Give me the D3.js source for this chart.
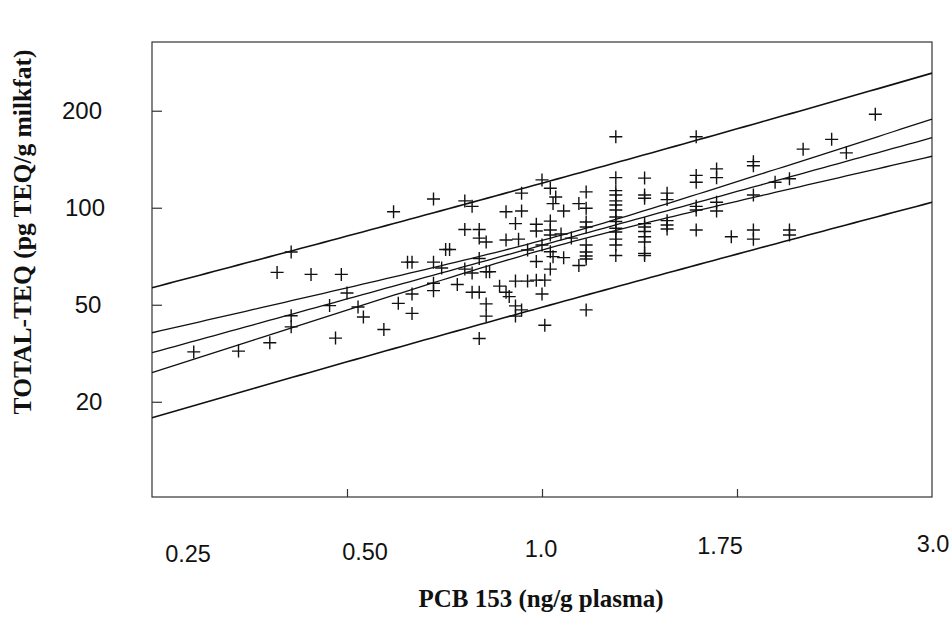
<!DOCTYPE html>
<html><head><meta charset="utf-8">
<script src="https://cdn.jsdelivr.net/npm/d3@7"></script>
<style>body{margin:0;background:#fff}</style>
</head><body><svg id="c" width="951" height="637"></svg>
<script>
// ---------------- data ----------------
const pcb = [
 0.29,0.34,0.38,0.39,0.41,0.41,0.41,0.44,0.49,0.48,0.50,0.47,0.52,0.53,0.57,0.59,0.60,0.63,0.63,0.62,
 0.63,0.68,0.68,0.68,0.68,0.70,0.71,0.72,0.74,
 0.76,0.78,0.88,0.93,0.93,0.91,0.76,0.80,0.80,0.82,0.88,0.92,0.98,0.98,1.03,1.03,1.00,1.03,1.05,1.04,
 1.08,1.14,1.17,1.17,1.17,1.17,1.17,1.17,1.17,1.17,1.14,
 1.30,1.30,1.30,1.30,1.30,1.30,1.30,1.30,1.30,1.30,1.30,1.30,1.30,1.30,
 1.08,1.04,1.03,1.03,1.00,0.98,0.95,1.03,1.07,1.11,0.80,0.76,0.78,0.78,0.80,0.82,0.83,0.86,0.88,0.89,
 0.82,0.82,0.80,0.91,0.91,0.93,0.91,0.95,0.98,1.01,1.00,1.01,1.17,
 1.44,1.44,1.44,1.44,1.44,1.44,1.44,1.44,1.44,1.44,
 1.56,1.56,1.56,1.56,1.56,
 1.73,1.73,1.73,1.73,1.73,1.73,
 1.86,1.86,1.86,1.86,1.96,
 2.12,2.12,2.12,2.12,2.12,
 2.29,2.41,2.41,2.41,2.53,2.80,2.95,3.27
];
const teq = [
 35.7,35.9,38.1,63.0,72.9,46.2,42.7,62.1,62.1,39.4,54.4,49.7,49.2,45.8,41.9,97.2,50.5,54.0,47.0,67.8,
 67.8,67.8,106.4,58.3,55.3,65.0,74.2,74.2,57.8,
 105,101,97.2,111,97.7,89.3,85.6,85.6,80.5,78.3,79.4,79.9,88.9,84.7,90.9,85.3,122,115,108,103,
 97.7,103,112,99.6,90.3,87.1,76.6,72.9,70.8,69.3,66.2,
 166,124,113,109.5,105,102,98.4,93.6,90.6,86.4,84.1,79.9,76.6,71.1,
 70.0,70.5,73.0,64.5,76.6,68.1,73.9,82.3,82.9,80.5,69.6,64.5,62.7,54.7,54.7,63.3,63.3,57.1,54.7,53.0,
 50.3,46.1,39.3,59.2,49.6,48.2,46.1,59.2,59.6,59.6,54.0,43.2,48.2,
 123.6,109.5,107,89.3,87.1,84.4,81.3,78.3,72.2,71.1,
 111,106,91.2,88.4,85.9,
 166,126,120,101,98.4,85.3,
 132,124,104,97.7,81.3,
 139,135,109.5,85.3,79.9,
 120,123,85.3,82.3,152,163,148,195
];
// regression on log10 scales
const fitCoef = [1.8837, 0.554];             // intercept, slope
const bandStats = [0.192, 170, 0.024, 3.99]; // t*s, n, mean log10(x), Sxx
const xTickValues = [0.25, 0.5, 1, 2, 4];
const xTickLabels = ["0.25", "0.50", "1.0", "1.75", "3.0"];
const yTickValues = [200, 100, 50, 25];
const yTickLabels = ["200", "100", "50", "20"];
const xTitle = "PCB 153 (ng/g plasma)";
const yTitle = "TOTAL-TEQ (pg TEQ/g milkfat)";

// ---------------- layout ----------------
const L = 152, R = 932, T = 42, B = 497;
const xLabelNudge = [36, 18, -1, -17, 1];
const xLabelBase = [562, 560, 557, 554, 552];
const yLabelX = [82, 85, 88, 89];
const svg = d3.select("#c");
const x = d3.scaleLog().domain([0.25, 4]).range([L, R]);
const y = d3.scaleLog().domain([12.66, 326.8]).range([B, T]);
const ink = "#111";

// frame
svg.append("rect").attr("x", L).attr("y", T).attr("width", R - L).attr("height", B - T)
  .attr("fill", "none").attr("stroke", "#333").attr("stroke-width", 1.2);

// y ticks (inward)
const yAxis = d3.axisRight(y).tickValues(yTickValues).tickSize(10).tickFormat("");
const gy = svg.append("g").attr("transform", `translate(${L},0)`).call(yAxis);
gy.select(".domain").remove();
gy.selectAll("line").attr("stroke", "#333").attr("stroke-width", 1.2);
svg.selectAll(".ylab").data(yTickValues).enter().append("text")
  .attr("x", (d, i) => yLabelX[i]).attr("y", d => y(d)).attr("dy", "0.36em")
  .attr("text-anchor", "middle").attr("font-family", "Liberation Sans, Arial, sans-serif")
  .attr("font-size", 24).attr("fill", ink).text((d, i) => yTickLabels[i]);

// x ticks (inward)
const xAxis = d3.axisTop(x).tickValues(xTickValues.slice(1, 4)).tickSize(8).tickFormat("");
const gx = svg.append("g").attr("transform", `translate(0,${B})`).call(xAxis);
gx.select(".domain").remove();
gx.selectAll("line").attr("stroke", "#333").attr("stroke-width", 1.2);
svg.selectAll(".xlab").data(xTickValues).enter().append("text")
  .attr("x", (d, i) => x(d) + xLabelNudge[i]).attr("y", (d, i) => xLabelBase[i])
  .attr("text-anchor", "middle").attr("font-family", "Liberation Sans, Arial, sans-serif")
  .attr("font-size", 23.5).attr("fill", ink).text((d, i) => xTickLabels[i]);

// titles
svg.append("text").attr("x", 541).attr("y", 607).attr("text-anchor", "middle")
  .attr("font-family", "Liberation Serif, Times New Roman, serif").attr("font-weight", "bold")
  .attr("font-size", 25).attr("fill", ink).text(xTitle);
svg.append("text").attr("transform", "translate(31,232) rotate(-90)").attr("text-anchor", "middle")
  .attr("font-family", "Liberation Serif, Times New Roman, serif").attr("font-weight", "bold")
  .attr("font-size", 25.5).attr("fill", ink).text(yTitle);

// regression line with confidence and prediction bands
const [a, b] = fitCoef;
const [tS, n, xm, sxx] = bandStats;
const lx0 = Math.log10(x.domain()[0]), lx1 = Math.log10(x.domain()[1]);
const grid = d3.range(0, 101).map(i => lx0 + (lx1 - lx0) * i / 100);
function curve(k, pred) {
  return grid.map(lx => {
    const se = tS * Math.sqrt((pred ? 1 : 0) + 1 / n + (lx - xm) ** 2 / sxx);
    return [Math.pow(10, lx), Math.pow(10, a + b * lx + k * se)];
  });
}
const lineGen = d3.line().x(d => x(d[0])).y(d => y(d[1]));
const curves = [curve(1, true), curve(1, false), curve(0, false), curve(-1, false), curve(-1, true)];
svg.append("g").selectAll("path").data(curves).enter().append("path")
  .attr("d", lineGen).attr("fill", "none").attr("stroke", ink)
  .attr("stroke-width", (d, i) => (i === 0 || i === 4) ? 1.6 : 1.3);

// points (+ markers)
const pts = pcb.map((v, i) => [v, teq[i]]);
svg.append("g").selectAll("path").data(pts).enter().append("path")
  .attr("transform", d => `translate(${x(d[0])},${y(d[1])})`)
  .attr("d", "M-6.5,0H6.5M0,-6.5V6.5").attr("stroke", ink).attr("stroke-width", 1.4)
  .attr("fill", "none");
</script></body></html>
